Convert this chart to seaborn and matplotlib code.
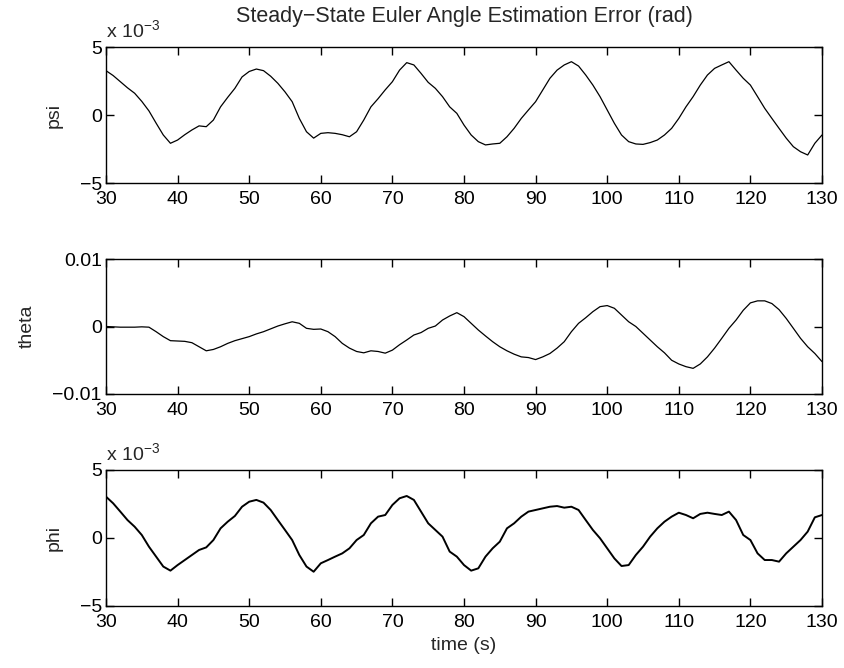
import numpy as np
import pandas as pd
import matplotlib
matplotlib.use("Agg")
import matplotlib.pyplot as plt
import seaborn as sns

# ---------------- data ----------------
time_s = list(range(30, 131))

psi_e3 = [3.26, 2.9, 2.45, 2.0, 1.6, 1.0, 0.3, -0.6, -1.47, -2.08,
          -1.84, -1.45, -1.1, -0.8, -0.86, -0.37, 0.6, 1.3, 1.96, 2.8,
          3.2, 3.38, 3.26, 2.85, 2.33, 1.7, 0.98, -0.25, -1.23, -1.7,
          -1.35, -1.3, -1.35, -1.45, -1.6, -1.23, -0.37, 0.6, 1.2, 1.85,
          2.45, 3.3, 3.85, 3.68, 3.06, 2.4, 1.96, 1.35, 0.6, 0.12,
          -0.74, -1.47, -1.96, -2.2, -2.13, -2.08, -1.6, -0.98, -0.25, 0.37,
          0.98, 1.84, 2.7, 3.3, 3.68, 3.92, 3.6, 2.94, 2.2, 1.35,
          0.37, -0.61, -1.47, -1.96, -2.13, -2.16, -2.03, -1.84, -1.47, -0.98,
          -0.25, 0.6, 1.35, 2.2, 2.94, 3.43, 3.68, 3.92, 3.3, 2.7,
          2.2, 1.35, 0.49, -0.25, -0.98, -1.7, -2.33, -2.7, -2.94, -2.08,
          -1.47]

theta_e3 = [0.0, -0.05, -0.1, -0.1, -0.1, -0.05, -0.1, -0.77, -1.5, -2.1,
            -2.15, -2.2, -2.4, -3.0, -3.6, -3.4, -3.0, -2.5, -2.1, -1.8,
            -1.5, -1.1, -0.77, -0.35, 0.07, 0.4, 0.7, 0.47, -0.27, -0.42,
            -0.37, -0.77, -1.5, -2.5, -3.2, -3.7, -3.9, -3.6, -3.7, -3.95,
            -3.5, -2.7, -2.0, -1.26, -0.9, -0.27, 0.07, 0.96, 1.56, 2.05,
            1.46, 0.47, -0.52, -1.4, -2.25, -3.0, -3.6, -4.1, -4.5, -4.6,
            -4.9, -4.5, -4.0, -3.2, -2.25, -0.77, 0.47, 1.3, 2.2, 2.94,
            3.1, 2.7, 1.7, 0.7, 0.0, -1.0, -2.0, -3.0, -3.9, -5.0,
            -5.55, -5.95, -6.2, -5.55, -4.5, -3.2, -1.75, -0.27, 0.96, 2.4,
            3.5, 3.8, 3.8, 3.4, 2.5, 1.2, -0.27, -1.75, -3.0, -4.0,
            -5.2]

phi_e3 = [3.04, 2.55, 1.94, 1.32, 0.83, 0.22, -0.64, -1.37, -2.1, -2.4,
          -1.99, -1.62, -1.25, -0.88, -0.69, -0.15, 0.71, 1.2, 1.62, 2.3,
          2.67, 2.8, 2.6, 2.06, 1.32, 0.59, -0.15, -1.25, -2.1, -2.48,
          -1.86, -1.62, -1.37, -1.13, -0.76, -0.15, 0.22, 1.08, 1.57, 1.69,
          2.43, 2.92, 3.09, 2.8, 1.94, 1.08, 0.59, 0.1, -1.0, -1.37,
          -1.99, -2.4, -2.23, -1.37, -0.76, -0.27, 0.71, 1.08, 1.57, 1.94,
          2.06, 2.18, 2.3, 2.35, 2.23, 2.3, 2.06, 1.32, 0.59, -0.02,
          -0.76, -1.5, -2.06, -1.99, -1.25, -0.64, 0.1, 0.71, 1.2, 1.57,
          1.86, 1.69, 1.45, 1.77, 1.86, 1.77, 1.69, 1.94, 1.32, 0.22,
          -0.15, -1.13, -1.62, -1.62, -1.74, -1.13, -0.64, -0.15, 0.47, 1.52,
          1.69]

x_ticks = [30, 40, 50, 60, 70, 80, 90, 100, 110, 120, 130]
small_ticks = [-5, 0, 5]
small_tick_labels = ["\u22125", "0", "5"]
theta_ticks = [-0.01, 0.0, 0.01]
theta_tick_labels = ["\u22120.01", "0", "0.01"]

title = "Steady\u2212State Euler Angle Estimation Error (rad)"
xlabel = "time (s)"

# ---------------- styling ----------------
sns.set_style("ticks")
plt.rcParams["font.family"] = ["Liberation Sans", "DejaVu Sans"]
plt.rcParams["mathtext.fontset"] = "custom"
plt.rcParams["mathtext.rm"] = "Liberation Sans"
plt.rcParams["mathtext.it"] = "Liberation Sans"

fig = plt.figure(figsize=(8.44, 6.68), dpi=100)
fs = 14

left, width = 106 / 844, 716 / 844
ax_top = fig.add_axes([left, 1 - 183 / 668, width, 136 / 668])
ax_mid = fig.add_axes([left, 1 - 394 / 668, width, 135 / 668])
ax_bot = fig.add_axes([left, 1 - 606 / 668, width, 136 / 668])

df = pd.DataFrame({"time": time_s, "psi": psi_e3,
                   "theta": np.array(theta_e3) * 1e-3, "phi": phi_e3})

sns.lineplot(data=df, x="time", y="psi", ax=ax_top, color="black", lw=0.9)
sns.lineplot(data=df, x="time", y="theta", ax=ax_mid, color="black", lw=0.9)
sns.lineplot(data=df, x="time", y="phi", ax=ax_bot, color="black", lw=1.4)

for ax in (ax_top, ax_mid, ax_bot):
    ax.set_xlim(30, 130)
    ax.set_xticks(x_ticks)
    ax.set_xticklabels([str(v) for v in x_ticks], fontsize=fs)
    ax.tick_params(direction="in", length=6, width=1, top=True, right=True,
                   colors="black", labelsize=fs)
    ax.tick_params(axis="x", pad=6)
    ax.tick_params(axis="y", pad=3)
    for s in ax.spines.values():
        s.set_visible(True)
        s.set_linewidth(1.0)
        s.set_color("black")
    ax.set_xlabel("")
    ax.set_facecolor("white")

for ax in (ax_top, ax_bot):
    ax.set_ylim(-5, 5)
    ax.set_yticks(small_ticks)
    ax.set_yticklabels(small_tick_labels, fontsize=fs)
    ax.text(0.0, 1.04, r"x 10$^{\mathregular{-3}}$", transform=ax.transAxes,
            fontsize=fs, ha="left", va="bottom")

ax_mid.set_ylim(-0.01, 0.01)
ax_mid.set_yticks(theta_ticks)
ax_mid.set_yticklabels(theta_tick_labels, fontsize=fs)

ax_top.set_ylabel("psi", fontsize=fs, labelpad=12)
ax_mid.set_ylabel("theta", fontsize=fs, labelpad=12)
ax_bot.set_ylabel("phi", fontsize=fs, labelpad=12)

ax_top.set_title(title, fontsize=15.5, pad=18)
ax_bot.set_xlabel(xlabel, fontsize=fs, labelpad=4)

fig.savefig("out.png", dpi=100, facecolor="white")
